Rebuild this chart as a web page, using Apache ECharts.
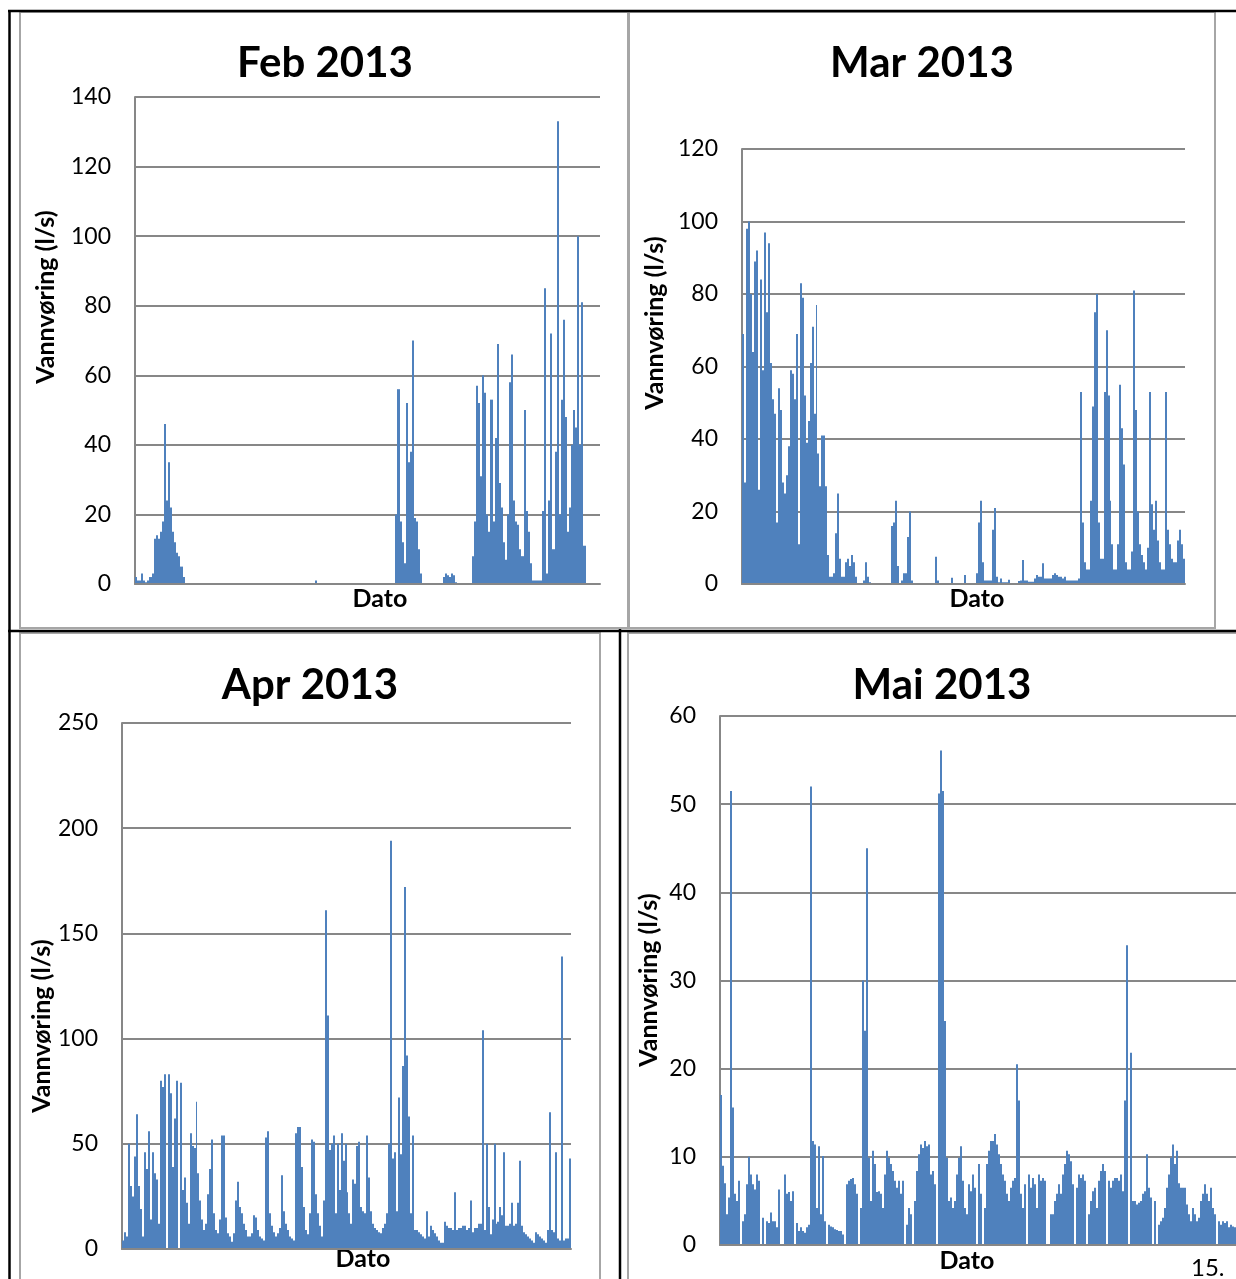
<!DOCTYPE html>
<html>
<head>
<meta charset="utf-8">
<title>Vannføring 2013</title>
<script src="https://cdn.jsdelivr.net/npm/echarts@6/dist/echarts.min.js"></script>
<style>
  html, body { margin: 0; padding: 0; background: #fff; }
  #chart { width: 1236px; height: 1279px; }
</style>
</head>
<body>
<div id="chart"></div>
<script>
// Water flow (l/s) readings per month, in time order
const febValues = [
  2,1,1,3,1,0.5,1,2,
  3,13,14,13,15,18,46,24,35,22,15,12,9,8,5,2,
  0,0,0,0,0,0,0,0,0,0,0,0,0,0,0,0,0,0,0,0,0,0,0,0,0,0,0,0,0,0,0,0,0,0,0,0,0,0,0,0,0,0,0,0,0,0,0,0,0,0,0,0,0,0,0,0,0,0,0,0,0,0,0,
  1,
  0,0,0,0,0,0,0,0,0,0,0,0,0,0,0,0,0,0,0,0,0,0,0,0,0,0,0,0,0,0,0,0,0,0,0,0,0,0,
  20,56,18,12,6,52,35,38,70,19,18,10,3,
  0,0,0,0,0,0,0,0,0,0,
  2,3,2.5,2,3,2.5,0.5,
  0,0,0,0,0,0,0,
  8,18,57,52,31,60,55,20,15,53,18,42,69,29,22,12,7,20,58,66,24,18,17,10,8,50,21,15,6,1,
  1,1,1,1,
  21,85,3,24,72,10,38,133,20,53,76,48,15,22,40,50,45,100,40,81,11,
  0,0,0,0,0,0,0
];

const marValues = [
  69,28,98,100,80,64,89,92,26,84,
  59,97,75,94,61,51,47,17,54,48,
  28,25,30,38,59,58,51,69,11,83,
  79,52,39,45,61,71,47,77,36,27,
  41,41,27,8,2,2,3,14,25,7,
  2,2,6,7,5,8,6,2,0,0,
  0,1,6,2,0.5,0,0,0,0,0,
  0,0,0,0,0,16,17,23,5,0,
  1,3,3,13,20,1,0,0,0,0,
  0,0,0,0,0,0,0,7.5,1,0,
  0,0,0,0,0,1.7,0,0,0,0,
  0,0,2.5,0,0,0,0,0,3,17,
  23,6,1,1,1,1,15,21,2,0.5,
  1.5,0.5,0.5,0.5,1.2,0.3,0.3,0.3,0.3,0.8,
  1,6.6,1,1,0.6,0.6,0.6,1.5,2.5,2,
  2,5.7,1.5,1.5,1.5,1.5,2.5,3,2.5,2,
  2,1.5,2,1,1,1,1,1,1,1.5,
  53,17,6,4,4,23,49,75,80,17,
  7,7,53,70,52,23,11,4,4,11,
  55,43,33,6,4,4,9,81,48,20,
  11,8,6,4,10,53,22,15,23,12,
  6,4,4,53,15,11,7,6,6,12,
  15,11,7
];

const aprValues = [
  4,8,6,50,30,25,44,64,30,19,
  6,46,38,56,14,46,36,33,12,80,
  77,83,0,83,74,39,62,80,0,79,
  28,34,22,12,55,49,48,70,36,23,
  14,9,12,26,38,52,17,9,7.5,14,
  54,54,15,7.5,6,3.5,7.5,23,32,20,
  17,12,9,6,6,7.5,16,15,9,6,
  5,4,53,56,17,11,8,6,7.5,10,
  35,18,12,9,6,5,4,55,58,58,
  39,20,9,7,17,52,51,26,17,11,
  6,23,161,111,47,50,54,17,50,28,
  55,42,50,27,17,12,33,31,49,51,
  20,18,17,54,34,18,12,10,9,8,
  7.5,10,12,17,50,194,43,46,18,72,
  45,87,172,92,63,17,54,9,9,8,
  7,6,5,18,6,11,9,7.5,6,4,
  3,3,13,11,10,10,9,27,9,10,
  10,11,11,9,10,23,8,10,10,12,
  12,104,9,50,20,7,14,50,12,13,
  20,16,46,11,11,12,22,11,12,22,
  42,11,8,7,6,5,4,3,8,7,
  6,5,4,3,9,65,9,8,46,5,
  4,139,4,5,5,43
];

const maiValues = [
  17,9,7,3.5,5.4,51.5,15.6,5.8,5,7.3,
  0,2.7,3.5,6.9,10,8,6.9,6.3,8,7.3,
  0,3.1,0,2.7,2.5,3.7,2.7,2.7,2,6.3,
  0,0,8,5.8,6,5,6.1,0,2.5,1.6,
  2,1.6,1.4,2,2.3,52,11.8,11.4,4.2,11.2,
  3.5,10.1,2.7,0,2.3,2.1,2,1.8,1.7,1.6,
  1.6,1.2,0,6.9,7.3,7.5,7.6,6.9,5.8,0,
  4.2,30,24.3,45,9.9,5,10.7,9.2,6,6.1,
  5.8,4.2,8,10.7,9.9,9.2,8.4,7.3,6.5,7.3,
  5.8,7.3,0,2.3,4.2,3.5,0,5,8.4,10.3,
  11.4,11,11.8,11.2,11.4,8,8.4,6.9,0,51.2,
  56.1,51.5,25.4,9.9,5,5.4,4.2,5,8,9.9,
  11.2,7.3,4.2,3.5,6.9,6.1,8,6.5,0,9.2,
  5.8,0,4.2,9.2,10.7,11.8,11.8,12.6,11.4,10.3,
  9.2,8,7.3,5.8,5,6.5,7.3,7.6,20.5,16.4,
  5.8,4.2,6.9,0,8,6.5,7.6,6.9,4.2,8,
  7.3,7.6,7.3,0,0,3.5,3.5,5,5.8,6.9,
  5.8,8,9.2,10.7,10.3,9.5,6.9,0,6.5,8,
  7.6,8,7.3,0,3.5,5,6.1,6.5,4.2,7.3,
  8.4,9.2,8.4,0,7.3,6.5,7.3,7.6,7.6,7.3,
  8,6.1,16.4,34,0,21.8,5,5,4.6,4.8,
  5,5.8,6.1,10.3,6.5,5.4,0,5,0,2.3,
  2.7,3.1,4.2,6.5,8,9.9,11.4,9.2,10.7,7,
  6.5,6.5,6.5,4.6,3.5,2.7,4.2,3.5,2.7,3.1,
  5,5.8,6.9,5.8,5,6.5,4.2,3.5,0,2.7,
  2.3,2.7,2.5,2.7,2,2.3,2.1,2
];

const monthTitles = ['Feb 2013', 'Mar 2013', 'Apr 2013', 'Mai 2013'];
const yAxisMax = [140, 120, 250, 60];
const yAxisStep = [20, 20, 50, 10];
const yAxisName = 'Vannvøring (l/s)';
const xAxisName = 'Dato';
const pageNumber = '15.';

// Panel geometry (pixels)
const layout = [
  { grid: { left: 135, top: 97,  width: 465, height: 487 }, title: [325, 62],  yName: [46, 297],  xName: [380, 599] },
  { grid: { left: 742, top: 149, width: 443, height: 435 }, title: [922, 62],  yName: [655, 323], xName: [977, 599] },
  { grid: { left: 122, top: 723, width: 449, height: 526 }, title: [310, 684], yName: [42, 1026], xName: [363, 1259] },
  { grid: { left: 720, top: 716, width: 516, height: 529 }, title: [942, 684], yName: [649, 980], xName: [967, 1261] }
];

const seriesValues = [febValues, marValues, aprValues, maiValues];

const FONT = 'Lato, "Open Sans", sans-serif';
const GRID_GREY = '#878787';
const FLOW_BLUE = '#4F81BD';

// Column for one reading; the side edges are snapped to whole pixels so that
// neighbouring columns join without hairline seams.
function renderColumn(params, api) {
  const idx = api.value(0);
  const val = api.value(1);
  if (!(val > 0)) return null;
  const top = api.coord([idx, val]);
  const base = api.coord([idx, 0]);
  const w = api.size([1, 0])[0];
  const x0 = Math.round(top[0] - w / 2);
  const x1 = Math.round(top[0] + w / 2);
  return {
    type: 'rect',
    shape: { x: x0, y: top[1], width: Math.max(1, x1 - x0), height: base[1] - top[1] },
    style: { fill: FLOW_BLUE }
  };
}

const grids = [], xAxes = [], yAxes = [], series = [];
seriesValues.forEach((vals, k) => {
  grids.push(Object.assign({ containLabel: false }, layout[k].grid));
  xAxes.push({
    gridIndex: k,
    type: 'category',
    data: vals.map((_, i) => i),
    boundaryGap: true,
    axisLine: { show: true, lineStyle: { color: GRID_GREY, width: 2 } },
    axisTick: { show: false },
    axisLabel: { show: false },
    splitLine: { show: false },
    z: 5
  });
  yAxes.push({
    gridIndex: k,
    type: 'value',
    min: 0,
    max: yAxisMax[k],
    interval: yAxisStep[k],
    axisLine: { show: true, lineStyle: { color: GRID_GREY, width: 2 } },
    axisTick: { show: false },
    splitLine: { show: true, lineStyle: { color: GRID_GREY, width: 2 } },
    axisLabel: { margin: 24, color: '#000', fontFamily: FONT, fontSize: 23 }
  });
  series.push({
    type: 'custom',
    xAxisIndex: k,
    yAxisIndex: k,
    data: vals.map((v, i) => [i, v]),
    encode: { x: 0, y: 1 },
    renderItem: renderColumn,
    silent: true
  });
});

// Table frame and text elements around the four charts
const graphic = [
  { type: 'rect', shape: { x: 20, y: 12, width: 608, height: 616 }, style: { fill: null, stroke: '#A6A6A6', lineWidth: 2 } },
  { type: 'rect', shape: { x: 629, y: 12, width: 586, height: 616 }, style: { fill: null, stroke: '#A6A6A6', lineWidth: 2 } },
  { type: 'rect', shape: { x: 20, y: 633, width: 580, height: 700 }, style: { fill: null, stroke: '#A6A6A6', lineWidth: 2 } },
  { type: 'rect', shape: { x: 628, y: 633, width: 700, height: 700 }, style: { fill: null, stroke: '#A6A6A6', lineWidth: 2 } },
  { type: 'line', shape: { x1: 8, y1: 11, x2: 1236, y2: 11 }, style: { stroke: '#000', lineWidth: 2.5 } },
  { type: 'line', shape: { x1: 9.5, y1: 10, x2: 9.5, y2: 1279 }, style: { stroke: '#000', lineWidth: 2.5 } },
  { type: 'line', shape: { x1: 8, y1: 631, x2: 1236, y2: 631 }, style: { stroke: '#000', lineWidth: 2.5 } },
  { type: 'line', shape: { x1: 620, y1: 629, x2: 620, y2: 1279 }, style: { stroke: '#000', lineWidth: 2.5 } }
];

layout.forEach((p, k) => {
  graphic.push({
    type: 'text', x: p.title[0], y: p.title[1] + 1,
    style: { text: monthTitles[k], font: 'bold 42px ' + FONT, fill: '#000', align: 'center', verticalAlign: 'middle', textAlign: 'center', textVerticalAlign: 'middle' }
  });
  graphic.push({
    type: 'text', x: p.yName[0], y: p.yName[1], rotation: Math.PI / 2,
    style: { text: yAxisName, font: 'bold 25px ' + FONT, fill: '#000', align: 'center', verticalAlign: 'middle', textAlign: 'center', textVerticalAlign: 'middle' }
  });
  graphic.push({
    type: 'text', x: p.xName[0], y: p.xName[1],
    style: { text: xAxisName, font: 'bold 25px ' + FONT, fill: '#000', align: 'center', verticalAlign: 'middle', textAlign: 'center', textVerticalAlign: 'middle' }
  });
});

graphic.push({
  type: 'text', x: 1191, y: 1268,
  style: { text: pageNumber, font: '24px ' + FONT, fill: '#000', align: 'left', verticalAlign: 'middle', textAlign: 'left', textVerticalAlign: 'middle' }
});

const chart = echarts.init(document.getElementById('chart'), null, { renderer: 'canvas' });
chart.setOption({
  animation: false,
  backgroundColor: '#fff',
  grid: grids,
  xAxis: xAxes,
  yAxis: yAxes,
  series: series,
  graphic: graphic
});
</script>
</body>
</html>
